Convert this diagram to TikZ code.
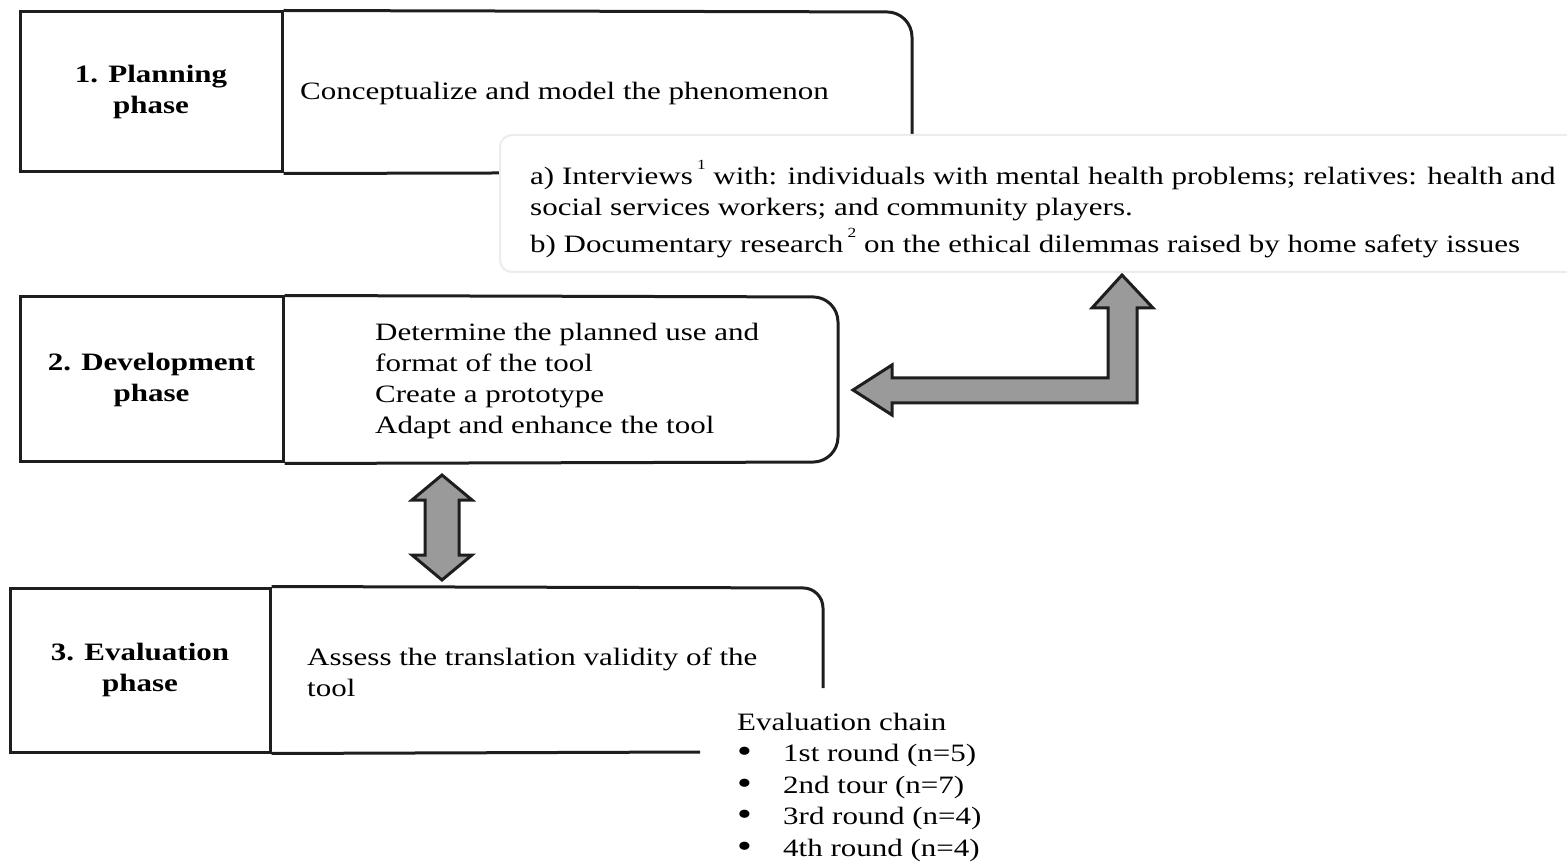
\documentclass[tikz,border=0pt]{standalone}
\usepackage{fontspec}
\setmainfont{Liberation Serif}[FakeStretch=1.24]
\definecolor{ink}{HTML}{1E1E1E}
\definecolor{arrowgray}{HTML}{9A9A9A}
\definecolor{faint}{HTML}{ECECEC}
\newcommand\fnmark[1]{\raisebox{0.62em}{\fontsize{14}{14}\selectfont #1}}
\newcommand\bigbullet{\makebox[46pt][l]{\raisebox{-1pt}{\fontsize{34}{34}\selectfont\textbullet}}}
\begin{document}
\begin{tikzpicture}[x=1pt,y=-1pt,
  phase/.style={draw=ink, line width=3pt, align=center, inner sep=0pt,
    font=\bfseries\fontsize{25}{31}\selectfont},
  outline/.style={draw=ink, line width=3pt},
  body/.style={font=\fontsize{25}{31}\selectfont, align=left, inner sep=0pt, anchor=west},
  blockarrow/.style={draw=ink, fill=arrowgray, line width=3pt, line join=miter}]
\useasboundingbox (0,0) rectangle (1567,866);

% 1. Planning phase
\node[phase, minimum width=262pt, minimum height=160pt] (L1) at (151,92) {1. Planning\\phase};
\draw[outline, rounded corners=25pt] (L1.north east) -- (912,12) -- (912,172) -- (L1.south east);
\node[body] (T1) at (300,93) {Conceptualize and model the phenomenon};

% data sources panel
\draw[draw=faint, fill=white, line width=2pt, rounded corners=12pt] (500,135) rectangle (1640,272);
\node[body] (src) at (530,209) {a) Interviews\,\fnmark{1} with: individuals with mental health problems; relatives: health and\\
social services workers; and community players.\\[6pt]
b) Documentary research\,\fnmark{2} on the ethical dilemmas raised by home safety issues};

% 2. Development phase
\node[phase, minimum width=263pt, minimum height=165pt] (L2) at (151.5,379.5) {2. Development\\phase};
\draw[outline, rounded corners=25pt] (L2.north east) -- (838,297) -- (838,462) -- (L2.south east);
\node[body] (T2) at (375,381) {Determine the planned use and\\format of the tool\\Create a prototype\\Adapt and enhance the tool};

% 3. Evaluation phase
\node[phase, minimum width=260pt, minimum height=164pt] (L3) at (140,670) {3. Evaluation\\phase};
\draw[outline, rounded corners=20pt] (L3.north east) -- (823,588) -- (823,688);
\draw[outline] (L3.south east) -- (700,752);
\node[body] (T3) at (307,672) {Assess the translation validity of the\\tool};
\node[body, font=\fontsize{25}{31.5}\selectfont] (chain) at (737,787) {Evaluation chain\\
\bigbullet 1st round (n=5)\\
\bigbullet 2nd tour (n=7)\\
\bigbullet 3rd round (n=4)\\
\bigbullet 4th round (n=4)};

% block arrows
\draw[blockarrow] (442,475) -- (472,500) -- (459,500) -- (459,555) -- (472,555) -- (442,580)
  -- (412,555) -- (425,555) -- (425,500) -- (412,500) -- cycle;
\draw[blockarrow] (853,390) -- (892,365) -- (892,378) -- (1108,378) -- (1108,308) -- (1092,308)
  -- (1122,275) -- (1153,308) -- (1137,308) -- (1137,403) -- (892,403) -- (892,415) -- cycle;
\end{tikzpicture}
\end{document}
